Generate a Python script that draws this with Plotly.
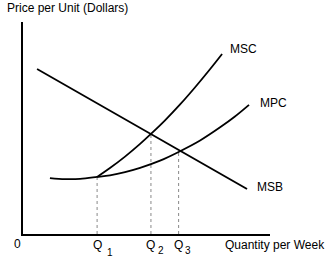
import plotly.graph_objects as go

FONT = "Arial, Liberation Sans, sans-serif"

# Curves (quantity, price)
msb_x = [0.57, 9.07]
msb_y = [7.78, 2.12]

msc_x = [3.00, 3.52, 4.13, 4.74, 5.18, 5.75, 6.36, 6.96, 7.57, 8.06]
msc_y = [2.69, 3.11, 3.65, 4.25, 4.72, 5.36, 6.11, 6.91, 7.77, 8.49]

mpc_x = [1.09, 1.70, 2.31, 3.00, 3.52, 4.13, 4.74, 5.55, 6.30, 7.17, 7.98, 8.58, 9.15]
mpc_y = [2.64, 2.59, 2.60, 2.69, 2.77, 2.92, 3.12, 3.46, 3.87, 4.41, 5.03, 5.54, 6.09]

q_names = ["1", "2", "3"]
q_x = [3.00, 5.18, 6.30]
q_top = [2.69, 4.72, 3.87]

curve_labels = ["MSC", "MPC", "MSB"]
curve_label_x = [8.30, 9.51, 9.39]
curve_label_y = [8.73, 6.18, 2.22]

X_MAX, Y_MAX = 10.0, 10.0

# label styling (pixel offsets of the subscript digits)
sub_dx = [13, 10.5, 9]
sub_dy = [-8, -6, -6]

fig = go.Figure()

for qx, qt in zip(q_x, q_top):
    fig.add_trace(go.Scatter(x=[qx, qx], y=[0, qt], mode="lines",
                             line=dict(color="#888888", width=1, dash="dot"),
                             hoverinfo="skip", showlegend=False))

for xs, ys in [(msb_x, msb_y), (msc_x, msc_y), (mpc_x, mpc_y)]:
    fig.add_trace(go.Scatter(x=xs, y=ys, mode="lines",
                             line=dict(color="black", width=1.8, shape="spline"),
                             hoverinfo="skip", showlegend=False))

def P(x, y, text, xanchor="left", xshift=0, yshift=0, size=12):
    return dict(x=x / X_MAX, y=y / Y_MAX, xref="paper", yref="paper", text=text,
                xanchor=xanchor, yanchor="middle", xshift=xshift, yshift=yshift,
                showarrow=False, font=dict(family=FONT, size=size, color="black"))

ann = [P(-0.73, 10.66, "Price per Unit (Dollars)"),
       P(-0.24, -0.45, "0", xanchor="center")]
for n, qx, dx, dy in zip(q_names, q_x, sub_dx, sub_dy):
    ann.append(P(qx, -0.50, "Q", xanchor="center"))
    ann.append(P(qx, -0.50, n, xanchor="center", xshift=dx, yshift=dy, size=10))
ann.append(P(8.10, -0.52, "Quantity per Week"))
for t, lx, ly in zip(curve_labels, curve_label_x, curve_label_y):
    ann.append(P(lx, ly, t))

fig.update_layout(
    width=329, height=257,
    margin=dict(l=23, r=59, t=22, b=23),
    paper_bgcolor="white", plot_bgcolor="white",
    annotations=ann,
    xaxis=dict(range=[0, X_MAX], showline=True, linecolor="black", linewidth=2,
               showgrid=False, zeroline=False, showticklabels=False, ticks=""),
    yaxis=dict(range=[0, Y_MAX], showline=True, linecolor="black", linewidth=2,
               showgrid=False, zeroline=False, showticklabels=False, ticks=""),
)

fig.write_html("out.html")
